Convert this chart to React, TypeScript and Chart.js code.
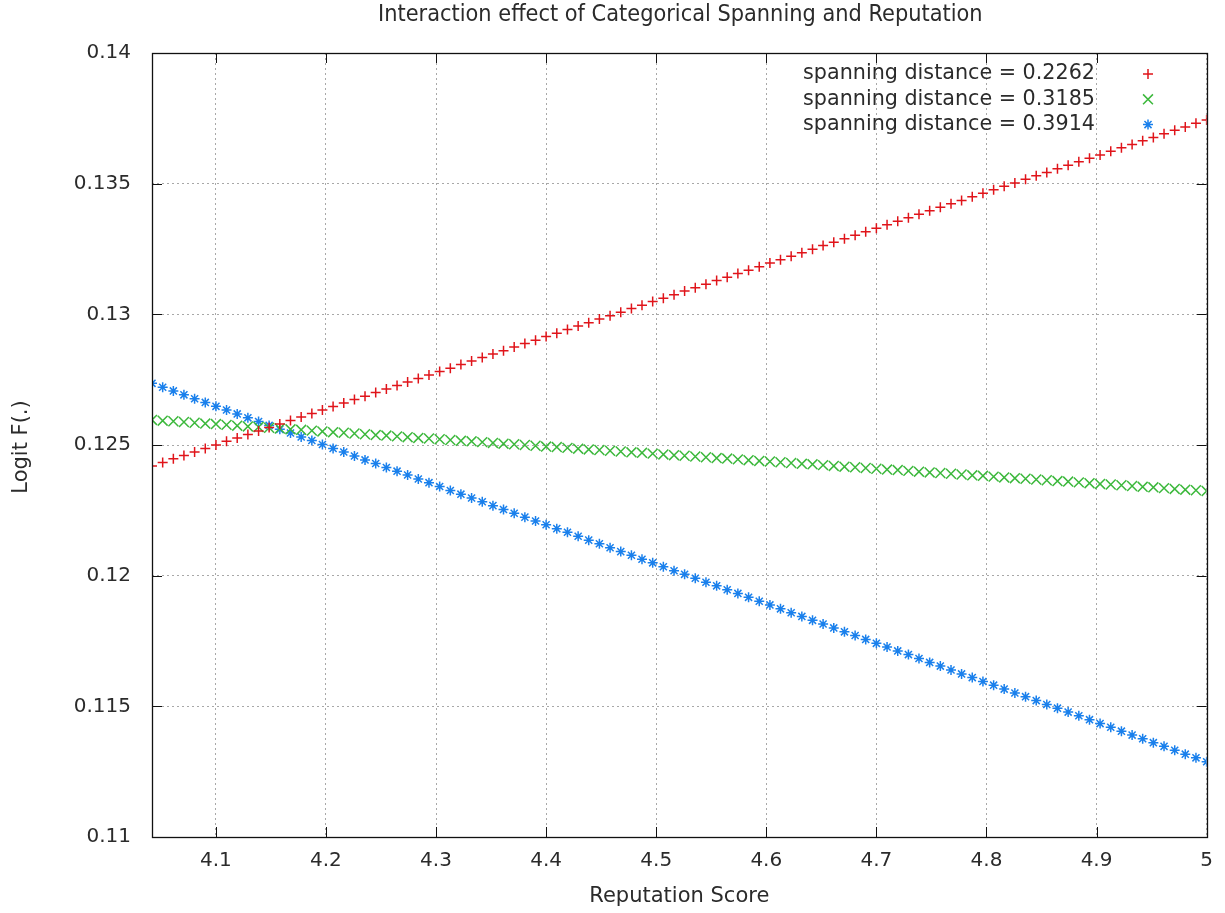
import React, { useEffect, useRef } from "react";
import { Chart, registerables } from "chart.js";

Chart.register(...registerables);

const titleText = "Interaction effect of Categorical Spanning and Reputation";
const xTitle = "Reputation Score";
const yTitle = "Logit F(.)";

const xTicks = [4.1, 4.2, 4.3, 4.4, 4.5, 4.6, 4.7, 4.8, 4.9, 5];
const xTickLabels = ["4.1", "4.2", "4.3", "4.4", "4.5", "4.6", "4.7", "4.8", "4.9", "5"];
const yTicks = [0.11, 0.115, 0.12, 0.125, 0.13, 0.135, 0.14];
const yTickLabels = ["0.11", "0.115", "0.12", "0.125", "0.13", "0.135", "0.14"];

const seriesLabels = [
  "spanning distance = 0.2262",
  "spanning distance = 0.3185",
  "spanning distance = 0.3914",
];

const reputation = [
  4.042, 4.0517, 4.0614, 4.071, 4.0807, 4.0904, 4.1001, 4.1097, 4.1194, 4.1291,
  4.1388, 4.1484, 4.1581, 4.1678, 4.1775, 4.1872, 4.1968, 4.2065, 4.2162, 4.2259,
  4.2355, 4.2452, 4.2549, 4.2646, 4.2742, 4.2839, 4.2936, 4.3033, 4.313, 4.3226,
  4.3323, 4.342, 4.3517, 4.3613, 4.371, 4.3807, 4.3904, 4.4, 4.4097, 4.4194,
  4.4291, 4.4387, 4.4484, 4.4581, 4.4678, 4.4775, 4.4871, 4.4968, 4.5065, 4.5162,
  4.5258, 4.5355, 4.5452, 4.5549, 4.5645, 4.5742, 4.5839, 4.5936, 4.6033, 4.6129,
  4.6226, 4.6323, 4.642, 4.6516, 4.6613, 4.671, 4.6807, 4.6903, 4.7, 4.7097,
  4.7194, 4.7291, 4.7387, 4.7484, 4.7581, 4.7678, 4.7774, 4.7871, 4.7968, 4.8065,
  4.8161, 4.8258, 4.8355, 4.8452, 4.8548, 4.8645, 4.8742, 4.8839, 4.8936, 4.9032,
  4.9129, 4.9226, 4.9323, 4.9419, 4.9516, 4.9613, 4.971, 4.9806, 4.9903, 5.0,
];

const dist2262 = [
  0.1242, 0.12433, 0.12447, 0.1246, 0.12473, 0.12487, 0.125, 0.12514, 0.12527, 0.1254,
  0.12554, 0.12567, 0.1258, 0.12594, 0.12607, 0.12621, 0.12634, 0.12647, 0.12661, 0.12674,
  0.12687, 0.12701, 0.12714, 0.12728, 0.12741, 0.12754, 0.12768, 0.12781, 0.12794, 0.12808,
  0.12821, 0.12835, 0.12848, 0.12861, 0.12875, 0.12888, 0.12901, 0.12915, 0.12928, 0.12942,
  0.12955, 0.12968, 0.12982, 0.12995, 0.13008, 0.13022, 0.13035, 0.13049, 0.13062, 0.13075,
  0.13089, 0.13102, 0.13115, 0.13129, 0.13142, 0.13156, 0.13169, 0.13182, 0.13196, 0.13209,
  0.13222, 0.13236, 0.13249, 0.13263, 0.13276, 0.13289, 0.13303, 0.13316, 0.13329, 0.13343,
  0.13356, 0.1337, 0.13383, 0.13396, 0.1341, 0.13423, 0.13436, 0.1345, 0.13463, 0.13477,
  0.1349, 0.13503, 0.13517, 0.1353, 0.13543, 0.13557, 0.1357, 0.13584, 0.13597, 0.1361,
  0.13624, 0.13637, 0.1365, 0.13664, 0.13677, 0.13691, 0.13704, 0.13717, 0.13731, 0.13744,
];

const dist3185 = [
  0.12596, 0.12593, 0.12591, 0.12588, 0.12585, 0.12582, 0.1258, 0.12577, 0.12574, 0.12571,
  0.12569, 0.12566, 0.12563, 0.1256, 0.12558, 0.12555, 0.12552, 0.12549, 0.12547, 0.12544,
  0.12541, 0.12538, 0.12536, 0.12533, 0.1253, 0.12527, 0.12525, 0.12522, 0.12519, 0.12516,
  0.12514, 0.12511, 0.12508, 0.12505, 0.12503, 0.125, 0.12497, 0.12494, 0.12492, 0.12489,
  0.12486, 0.12483, 0.12481, 0.12478, 0.12475, 0.12472, 0.1247, 0.12467, 0.12464, 0.12461,
  0.12459, 0.12456, 0.12453, 0.1245, 0.12448, 0.12445, 0.12442, 0.12439, 0.12437, 0.12434,
  0.12431, 0.12428, 0.12426, 0.12423, 0.1242, 0.12417, 0.12415, 0.12412, 0.12409, 0.12406,
  0.12404, 0.12401, 0.12398, 0.12395, 0.12393, 0.1239, 0.12387, 0.12384, 0.12382, 0.12379,
  0.12376, 0.12373, 0.12371, 0.12368, 0.12365, 0.12362, 0.1236, 0.12357, 0.12354, 0.12351,
  0.12349, 0.12346, 0.12343, 0.1234, 0.12338, 0.12335, 0.12332, 0.12329, 0.12327, 0.12324,
];

const dist3914 = [
  0.12736, 0.12721, 0.12707, 0.12692, 0.12677, 0.12663, 0.12648, 0.12634, 0.12619, 0.12604,
  0.1259, 0.12575, 0.1256, 0.12546, 0.12531, 0.12517, 0.12502, 0.12487, 0.12473, 0.12458,
  0.12443, 0.12429, 0.12414, 0.124, 0.12385, 0.1237, 0.12356, 0.12341, 0.12326, 0.12312,
  0.12297, 0.12283, 0.12268, 0.12253, 0.12239, 0.12224, 0.12209, 0.12195, 0.1218, 0.12166,
  0.12151, 0.12136, 0.12122, 0.12107, 0.12092, 0.12078, 0.12063, 0.12049, 0.12034, 0.12019,
  0.12005, 0.1199, 0.11975, 0.11961, 0.11946, 0.11932, 0.11917, 0.11902, 0.11888, 0.11873,
  0.11858, 0.11844, 0.11829, 0.11815, 0.118, 0.11785, 0.11771, 0.11756, 0.11741, 0.11727,
  0.11712, 0.11698, 0.11683, 0.11668, 0.11654, 0.11639, 0.11624, 0.1161, 0.11595, 0.11581,
  0.11566, 0.11551, 0.11537, 0.11522, 0.11507, 0.11493, 0.11478, 0.11464, 0.11449, 0.11434,
  0.1142, 0.11405, 0.1139, 0.11376, 0.11361, 0.11347, 0.11332, 0.11317, 0.11303, 0.11288,
];

const colors = ["#e0141a", "#3cb83c", "#1a80ec"];
const styles = ["cross", "crossRot", "star"];
const radii = [5, 7, 5];

const FONT = "DejaVu Sans";
const TEXT_COLOR = "#2b2b2b";

function drawMarker(ctx: CanvasRenderingContext2D, style: string, x: number, y: number, r: number, color: string) {
  ctx.save();
  ctx.strokeStyle = color;
  ctx.lineWidth = 1.5;
  ctx.beginPath();
  if (style === "cross" || style === "star") {
    ctx.moveTo(x - r, y);
    ctx.lineTo(x + r, y);
    ctx.moveTo(x, y - r);
    ctx.lineTo(x, y + r);
  }
  if (style === "crossRot" || style === "star") {
    const d = r * Math.SQRT1_2;
    ctx.moveTo(x - d, y - d);
    ctx.lineTo(x + d, y + d);
    ctx.moveTo(x - d, y + d);
    ctx.lineTo(x + d, y - d);
  }
  ctx.stroke();
  ctx.restore();
}

const decorPlugin = {
  id: "gnuplotDecor",
  afterDraw(chart: any) {
    const ctx: CanvasRenderingContext2D = chart.ctx;
    const { left, right, top, bottom } = chart.chartArea;
    const xs = chart.scales.x;
    const ys = chart.scales.y;
    ctx.save();
    // inward ticks
    ctx.strokeStyle = "#111";
    ctx.lineWidth = 1;
    ctx.beginPath();
    xTicks.forEach((v) => {
      const px = Math.round(xs.getPixelForValue(v)) + 0.5;
      ctx.moveTo(px, bottom);
      ctx.lineTo(px, bottom - 10);
      ctx.moveTo(px, top);
      ctx.lineTo(px, top + 10);
    });
    yTicks.forEach((v) => {
      const py = Math.round(ys.getPixelForValue(v)) + 0.5;
      ctx.moveTo(left, py);
      ctx.lineTo(left + 10, py);
      ctx.moveTo(right, py);
      ctx.lineTo(right - 10, py);
    });
    ctx.stroke();
    // border
    ctx.lineWidth = 1.3;
    ctx.strokeRect(Math.round(left) + 0.5, Math.round(top) + 0.5, Math.round(right - left), Math.round(bottom - top));

    // title
    ctx.fillStyle = TEXT_COLOR;
    ctx.textAlign = "center";
    ctx.textBaseline = "middle";
    const cx = (left + right) / 2;
    ctx.save();
    ctx.translate(cx + 1, 15);
    ctx.scale(0.91, 1);
    ctx.font = `23px ${FONT}`;
    ctx.fillText(titleText, 0, 0);
    ctx.restore();

    // axis titles
    ctx.font = `21px ${FONT}`;
    ctx.fillText(xTitle, cx, 897);
    ctx.save();
    ctx.translate(22, (top + bottom) / 2 + 2);
    ctx.rotate(-Math.PI / 2);
    ctx.fillText(yTitle, 0, 0);
    ctx.restore();

    // legend
    ctx.font = `20.7px ${FONT}`;
    ctx.textAlign = "right";
    seriesLabels.forEach((lab, i) => {
      const y = 74 + i * 25.3;
      ctx.fillStyle = TEXT_COLOR;
      ctx.fillText(lab, 1095, y);
      drawMarker(ctx, styles[i], 1148, y, radii[i], colors[i]);
    });
    ctx.restore();
  },
};

export default function App() {
  const ref = useRef<HTMLCanvasElement | null>(null);
  useEffect(() => {
    if (!ref.current) return;
    const series = [dist2262, dist3185, dist3914];
    const chart = new Chart(ref.current, {
      type: "scatter",
      data: {
        datasets: series.map((vals, i) => ({
          label: seriesLabels[i],
          data: reputation.map((x, j) => ({ x, y: vals[j] })),
          pointStyle: styles[i] as any,
          pointRadius: radii[i],
          pointBorderColor: colors[i],
          pointBackgroundColor: colors[i],
          pointBorderWidth: 1.5,
          showLine: false,
        })),
      },
      options: {
        animation: false,
        responsive: true,
        maintainAspectRatio: false,
        layout: { padding: { top: 53, right: 15, left: 0, bottom: 0 } },
        plugins: {
          legend: { display: false },
          title: { display: false },
          tooltip: { enabled: false },
        },
        scales: {
          x: {
            type: "linear",
            min: 4.042,
            max: 5,
            afterBuildTicks: (s: any) => {
              s.ticks = xTicks.map((v) => ({ value: v }));
            },
            afterFit: (s: any) => {
              s.height = 76;
            },
            ticks: {
              autoSkip: false,
              maxRotation: 0,
              padding: 12,
              color: TEXT_COLOR,
              font: { family: FONT, size: 20 },
              callback: (_v: any, i: number) => xTickLabels[i],
            },
            grid: { color: "#a8a8a8", lineWidth: 1, drawTicks: false },
            border: { display: false, dash: [2, 3] },
          },
          y: {
            type: "linear",
            min: 0.11,
            max: 0.14,
            afterBuildTicks: (s: any) => {
              s.ticks = yTicks.map((v) => ({ value: v }));
            },
            afterFit: (s: any) => {
              s.width = 152;
            },
            ticks: {
              autoSkip: false,
              padding: 21,
              color: TEXT_COLOR,
              font: { family: FONT, size: 20 },
              callback: (_v: any, i: number) => yTickLabels[i],
            },
            grid: { color: "#a8a8a8", lineWidth: 1, drawTicks: false },
            border: { display: false, dash: [2, 3] },
          },
        },
      },
      plugins: [decorPlugin],
    });
    return () => chart.destroy();
  }, []);
  return (
    <div style={{ position: "absolute", left: 0, top: 0, width: 1225, height: 913, background: "#fff" }}>
      <canvas ref={ref} />
    </div>
  );
}
